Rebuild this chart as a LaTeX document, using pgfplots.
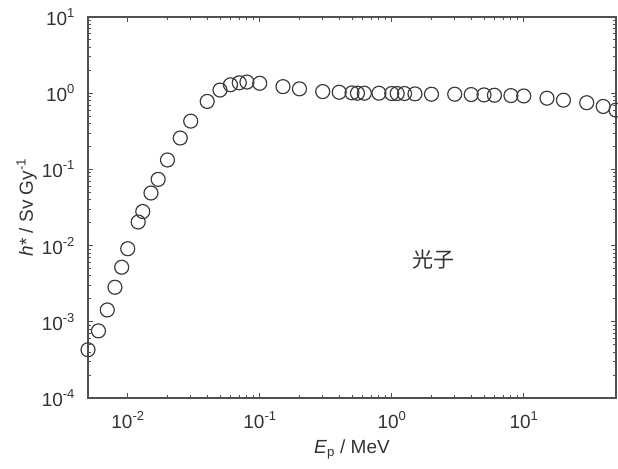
\documentclass[border=0pt]{standalone}
\usepackage{pgfplots}
\pgfplotsset{compat=1.18}
\usepackage{fontspec}
\setmainfont{Liberation Sans}
\newfontfamily\cjk{Noto Sans CJK SC}
\definecolor{txt}{HTML}{333333}
\definecolor{axc}{HTML}{505050}
\definecolor{mk}{HTML}{3C3C3C}
\newcommand{\tl}[1]{10\raisebox{0.42em}{\fontsize{13bp}{14bp}\selectfont #1}}
\begin{document}
\begin{tikzpicture}
\begin{axis}[
  scale only axis,
  width=528bp, height=381bp,
  xmode=log, ymode=log,
  xmin=0.005, xmax=50,
  ymin=1e-4, ymax=10,
  axis line style={axc, line width=1.3pt},
  every tick/.style={axc, line width=0.9pt},
  tick align=inside,
  major tick length=5bp, minor tick length=3bp,
  xtick={0.01,0.1,1,10},
  xticklabels={\tl{-2},\tl{-1},\tl{0},\tl{1}},
  ytick={1e-4,1e-3,1e-2,1e-1,1,10},
  yticklabels={\tl{-4},\tl{-3},\tl{-2},\tl{-1},\tl{0},\tl{1}},
  ticklabel style={font=\fontsize{19bp}{21bp}\selectfont, text=txt},
  xticklabel style={yshift=-10bp},
  yticklabel style={xshift=-10bp},
  xlabel={\textit{E}\textsubscript{p} / MeV},
  ylabel={\textit{h}* / Sv Gy\textsuperscript{-1}},
  label style={font=\fontsize{19bp}{21bp}\selectfont, text=txt},
  xlabel style={yshift=-4bp},
  ylabel style={yshift=-2bp},
]
\addplot[only marks, mark=o, mark size=7bp, mark options={draw=mk, line width=1.2pt}] coordinates {
(0.005,4.3e-4)
(0.006,7.6e-4)
(0.007,1.43e-3)
(0.008,2.84e-3)
(0.009,5.2e-3)
(0.010,9.1e-3)
(0.012,0.0204)
(0.013,0.028)
(0.015,0.049)
(0.017,0.074)
(0.020,0.133)
(0.025,0.258)
(0.030,0.43)
(0.040,0.78)
(0.050,1.10)
(0.060,1.29)
(0.070,1.37)
(0.080,1.40)
(0.100,1.35)
(0.150,1.22)
(0.200,1.14)
(0.300,1.05)
(0.400,1.03)
(0.500,1.01)
(0.550,1.0)
(0.620,1.0)
(0.800,1.0)
(1.0,0.99)
(1.1,0.99)
(1.25,0.99)
(1.5,0.98)
(2.0,0.97)
(3.0,0.97)
(4.0,0.96)
(5.0,0.95)
(6.0,0.94)
(8.0,0.93)
(10,0.92)
(15,0.86)
(20,0.81)
(30,0.75)
(40,0.67)
(50,0.60)
};
\node[text=txt, font=\cjk\fontsize{21bp}{23bp}\selectfont] at (axis cs:2.07,0.0066) {光子};
\end{axis}
\pgfresetboundingbox
\path[use as bounding box] ([shift={(-88bp,-71bp)}]current axis.south west) rectangle ([shift={(2bp,17bp)}]current axis.north east);
\end{tikzpicture}
\end{document}
